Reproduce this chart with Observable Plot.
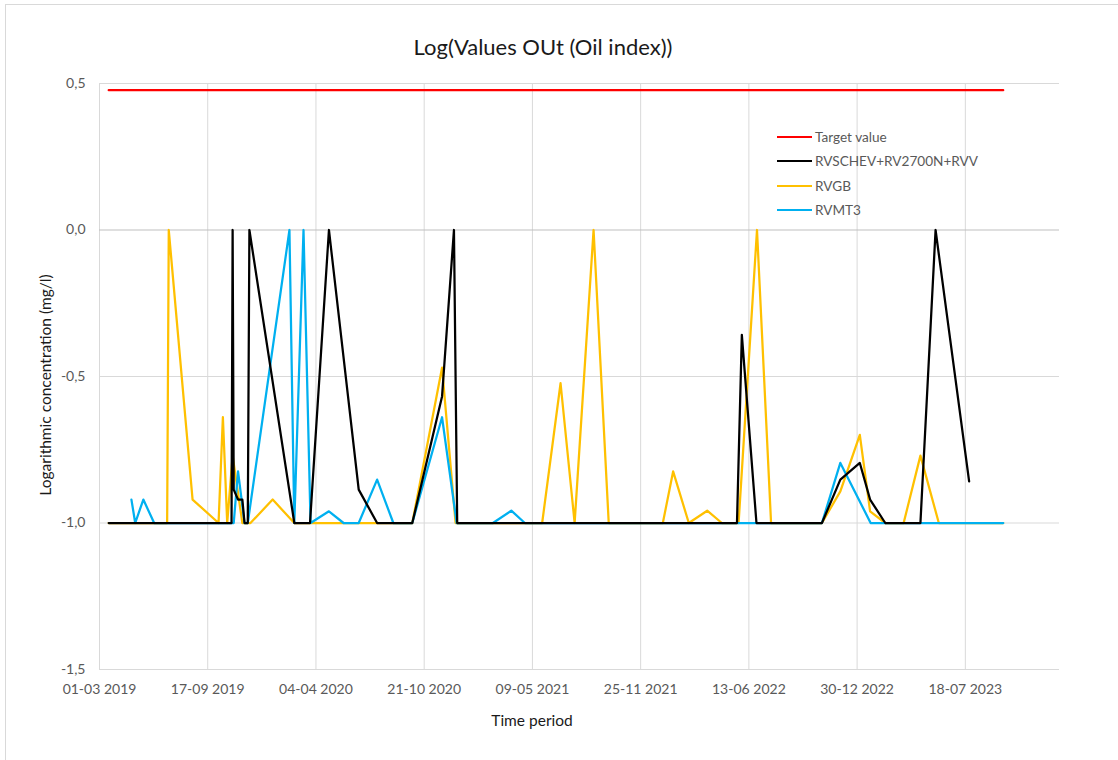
<!DOCTYPE html>
<html>
<head>
<meta charset="utf-8">
<script src="https://cdn.jsdelivr.net/npm/d3@7"></script>
<script src="https://cdn.jsdelivr.net/npm/@observablehq/plot@0.6"></script>
<style>
  html, body { margin: 0; padding: 0; background: #fff; overflow: hidden; }
  #wrap { position: relative; width: 1118px; height: 760px; font-family: Lato, "Open Sans", sans-serif; }
  #frame { position: absolute; left: 5px; top: 4px; width: 1400px; height: 1000px;
           border-left: 1px solid #d9d9d9; border-top: 1px solid #d9d9d9; }
  #chart { position: absolute; left: 0; top: 0; }
  #title { position: absolute; left: 0; width: 1086px; top: 35px; line-height: 24px;
           text-align: center; font-size: 22px; color: #1a1a1a; }
  #xlabel { position: absolute; left: 382px; width: 300px; top: 710px; line-height: 20px;
            text-align: center; font-size: 15.5px; color: #1a1a1a; }
  #ylabel { position: absolute; left: -105px; width: 300px; top: 375px; line-height: 20px;
            text-align: center; font-size: 15.5px; color: #1a1a1a; transform: rotate(-90deg); }
  #legend { position: absolute; left: 777px; top: 124.5px; }
  .row { display: flex; align-items: center; height: 24.5px; font-size: 13.6px; color: #595959; }
  .sw { display: inline-block; width: 35px; height: 0; border-top: 2.5px solid; margin-right: 3px; }
</style>
</head>
<body>
<div id="wrap">
  <div id="frame"></div>
  <div id="chart"></div>
  <div id="title">Log(Values OUt (Oil index))</div>
  <div id="xlabel">Time period</div>
  <div id="ylabel">Logarithmic concentration (mg/l)</div>
  <div id="legend"></div>
</div>
<script>
// ---- Data ----
const seriesNames = ["Target value", "RVSCHEV+RV2700N+RVV", "RVGB", "RVMT3"];
const seriesColors = ["#ff0000", "#000000", "#ffc000", "#00b0f0"];

const xTickLabels = ["2019-03-01","2019-09-17","2020-04-04","2020-10-21","2021-05-09",
                     "2021-11-25","2022-06-13","2022-12-30","2023-07-18"];
const yTickValues = [-1.5, -1, -0.5, 0, 0.5];
const xDomain = ["2019-03-01", "2024-01-08"];

const targetDates = ["2019-03-18", "2023-09-26"];
const targetValues = [0.477, 0.477];

const blackDates = ["2019-03-18","2019-10-31","2019-11-02","2019-11-04","2019-11-12","2019-11-20",
  "2019-11-24","2019-11-30","2019-12-03","2020-02-24","2020-03-24","2020-04-28","2020-06-22",
  "2020-07-26","2020-09-29","2020-11-23","2020-12-15","2020-12-21","2022-05-22","2022-05-31",
  "2022-06-27","2022-10-26","2022-11-29","2023-01-04","2023-01-23","2023-02-20","2023-04-26",
  "2023-05-24","2023-07-25"];
const blackValues = [-1,-1,0,-0.886,-0.92,-0.92,-1,-1,0,-1,-1,0,-0.886,-1,-1,-0.568,0,-1,-1,
  -0.358,-1,-1,-0.852,-0.795,-0.92,-1,-1,0,-0.858];

const orangeDates = ["2019-03-18","2019-07-04","2019-07-07","2019-08-20","2019-10-07","2019-10-15",
  "2019-10-23","2019-11-02","2019-11-20","2019-12-05","2020-01-15","2020-02-24","2020-09-29",
  "2020-11-23","2020-12-18","2021-05-27","2021-06-30","2021-07-26","2021-08-30","2021-09-27",
  "2022-01-05","2022-01-24","2022-02-22","2022-03-28","2022-04-24","2022-05-25","2022-06-28",
  "2022-07-24","2022-10-26","2022-11-29","2023-01-04","2023-01-23","2023-02-20","2023-03-26",
  "2023-04-26","2023-05-30","2023-09-26"];
const orangeValues = [-1,-1,0,-0.92,-1,-0.639,-1,-0.77,-1,-1,-0.92,-1,-1,-0.47,-1,-1,-0.523,-1,0,-1,
  -1,-0.824,-1,-0.958,-1,-1,0,-1,-1,-0.892,-0.699,-0.96,-1,-1,-0.77,-1,-1];

const blueDates = ["2019-04-29","2019-05-06","2019-05-21","2019-06-10","2019-11-04","2019-11-12",
  "2019-11-24","2019-11-30","2020-02-15","2020-02-24","2020-03-12","2020-03-25","2020-04-28",
  "2020-05-25","2020-06-22","2020-07-26","2020-08-25","2020-09-29","2020-11-23","2020-12-20",
  "2021-02-25","2021-03-31","2021-04-25","2022-10-26","2022-11-29","2023-01-24","2023-09-26"];
const blueValues = [-0.92,-1,-0.92,-1,-1,-0.824,-1,-1,0,-1,0,-1,-0.96,-1,-1,-0.852,-1,-1,-0.639,-1,
  -1,-0.958,-1,-1,-0.795,-1,-1];

// ---- Build ----
const parse = d3.utcParse("%Y-%m-%d");
const toRows = (dates, values) => dates.map((d, i) => ({date: parse(d), value: values[i]}));
const target = toRows(targetDates, targetValues);
const black = toRows(blackDates, blackValues);
const orange = toRows(orangeDates, orangeValues);
const blue = toRows(blueDates, blueValues);
const xTicks = xTickLabels.map(parse);
const fmtX = d3.utcFormat("%d-%m %Y");
const fmtY = d => d.toFixed(1).replace(".", ",");

const lineOpts = (c) => ({x: "date", y: "value", stroke: c, strokeWidth: 2.25, strokeLinejoin: "round"});

const chart = Plot.plot({
  width: 1118,
  height: 760,
  marginLeft: 99,
  marginRight: 59,
  marginTop: 83,
  marginBottom: 91,
  style: {fontFamily: "Lato, 'Open Sans', sans-serif", fontSize: "14px", color: "#595959", background: "transparent", overflow: "visible"},
  x: {type: "utc", domain: xDomain.map(parse), ticks: xTicks, tickFormat: fmtX, tickSize: 0, tickPadding: 15, label: null},
  y: {domain: [-1.5, 0.5], ticks: yTickValues, tickFormat: fmtY, tickSize: 0, tickPadding: 14, label: null},
  marks: [
    Plot.ruleX(xTicks, {stroke: "#d9d9d9", strokeWidth: 1}),
    Plot.ruleY(yTickValues.filter(d => d !== 0), {stroke: "#d9d9d9", strokeWidth: 1}),
    Plot.ruleY([0], {stroke: "#bfbfbf", strokeWidth: 1}),
    Plot.line(target, lineOpts(seriesColors[0])),
    Plot.line(orange, lineOpts(seriesColors[2])),
    Plot.line(blue, lineOpts(seriesColors[3])),
    Plot.line(black, lineOpts(seriesColors[1]))
  ]
});
document.getElementById("chart").appendChild(chart);

const legend = document.getElementById("legend");
seriesNames.forEach((name, i) => {
  const row = document.createElement("div");
  row.className = "row";
  const sw = document.createElement("span");
  sw.className = "sw";
  sw.style.borderTopColor = seriesColors[i];
  const t = document.createElement("span");
  t.textContent = name;
  row.appendChild(sw);
  row.appendChild(t);
  legend.appendChild(row);
});
</script>
</body>
</html>
